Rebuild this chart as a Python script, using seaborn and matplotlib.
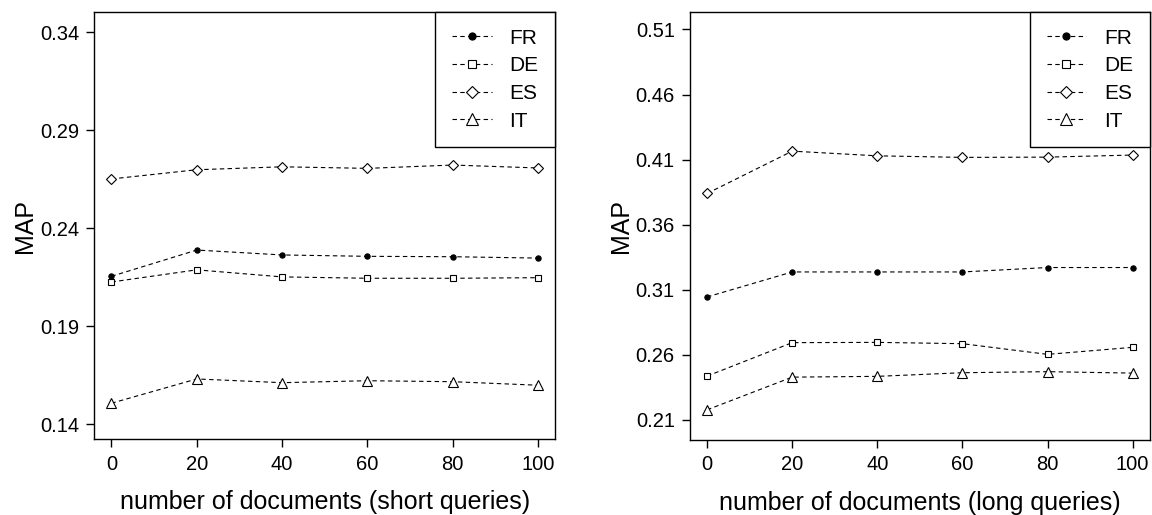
import pandas as pd
import seaborn as sns
import matplotlib.pyplot as plt

# number of documents used for feedback
docs = [0, 20, 40, 60, 80, 100]
langs = ["FR", "DE", "ES", "IT"]

# MAP, short queries
short_fr = [0.2155, 0.2289, 0.2264, 0.2257, 0.2255, 0.2248]
short_de = [0.2126, 0.2188, 0.2152, 0.2145, 0.2145, 0.2148]
short_es = [0.2652, 0.2699, 0.2714, 0.2706, 0.2723, 0.2708]
short_it = [0.1507, 0.1631, 0.1612, 0.1622, 0.1617, 0.1599]

# MAP, long queries
long_fr = [0.3045, 0.3237, 0.3237, 0.3237, 0.3271, 0.3271]
long_de = [0.2437, 0.2694, 0.2696, 0.2686, 0.2604, 0.2658]
long_es = [0.3840, 0.4165, 0.4129, 0.4117, 0.4119, 0.4135]
long_it = [0.2178, 0.2429, 0.2435, 0.2463, 0.2471, 0.2460]

short_ticks = [0.14, 0.19, 0.24, 0.29, 0.34]
long_ticks = [0.21, 0.26, 0.31, 0.36, 0.41, 0.46, 0.51]


def to_long(series):
    rows = []
    for lang, vals in zip(langs, series):
        for d, v in zip(docs, vals):
            rows.append({"docs": d, "MAP": v, "lang": lang})
    return pd.DataFrame(rows)


short_df = to_long([short_fr, short_de, short_es, short_it])
long_df = to_long([long_fr, long_de, long_es, long_it])

sns.set_style("ticks")
plt.rcParams["font.family"] = ["Liberation Sans", "DejaVu Sans"]
plt.rcParams.update({"text.color": "black", "axes.labelcolor": "black",
                     "xtick.color": "black", "ytick.color": "black"})

styles = {
    "FR": dict(marker="o", markersize=3.8, markerfacecolor="black"),
    "DE": dict(marker="s", markersize=4.6, markerfacecolor="white"),
    "ES": dict(marker="D", markersize=4.6, markerfacecolor="white"),
    "IT": dict(marker="^", markersize=6.5, markerfacecolor="white"),
}

fig = plt.figure(figsize=(11.52, 5.15), dpi=100)
ax1 = fig.add_axes([0.0819, 0.147, 0.400, 0.830])
ax2 = fig.add_axes([0.599, 0.1456, 0.399, 0.8314])

panels = [
    (ax1, short_df, short_ticks, (0.1323, 0.3505), "number of documents (short queries)"),
    (ax2, long_df, long_ticks, (0.1946, 0.5235), "number of documents (long queries)"),
]

for ax, df, yt, yl, xlab in panels:
    for lang in langs:
        sub = df[df["lang"] == lang]
        sns.lineplot(data=sub, x="docs", y="MAP", ax=ax, color="black",
                     linewidth=0.8, linestyle=(0, (4, 3)),
                     markeredgecolor="black", markeredgewidth=0.8,
                     label=lang, **styles[lang])
    ax.set_xlim(-4, 104)
    ax.set_ylim(*yl)
    ax.set_xticks(docs)
    ax.set_yticks(yt)
    ax.set_yticklabels([f"{t:.2f}" for t in yt])
    ax.tick_params(labelsize=14.5, length=6, width=1, color="black",
                   labelcolor="black", pad=5)
    ax.set_xlabel(xlab, fontsize=18, labelpad=12, color="black")
    ax.set_ylabel("MAP", fontsize=18, labelpad=2, color="black")
    for s in ax.spines.values():
        s.set_visible(True)
        s.set_color("black")
        s.set_linewidth(1)
    leg = ax.legend(loc="upper right", borderaxespad=0, fontsize=15,
                    frameon=True, fancybox=False, edgecolor="black",
                    handlelength=1.9, handletextpad=0.85, borderpad=0.8,
                    labelspacing=0.42, framealpha=1, markerscale=1.35)
    leg.get_frame().set_linewidth(1)
    for t in leg.get_texts():
        t.set_color("black")

fig.savefig("out.png", dpi=100)
